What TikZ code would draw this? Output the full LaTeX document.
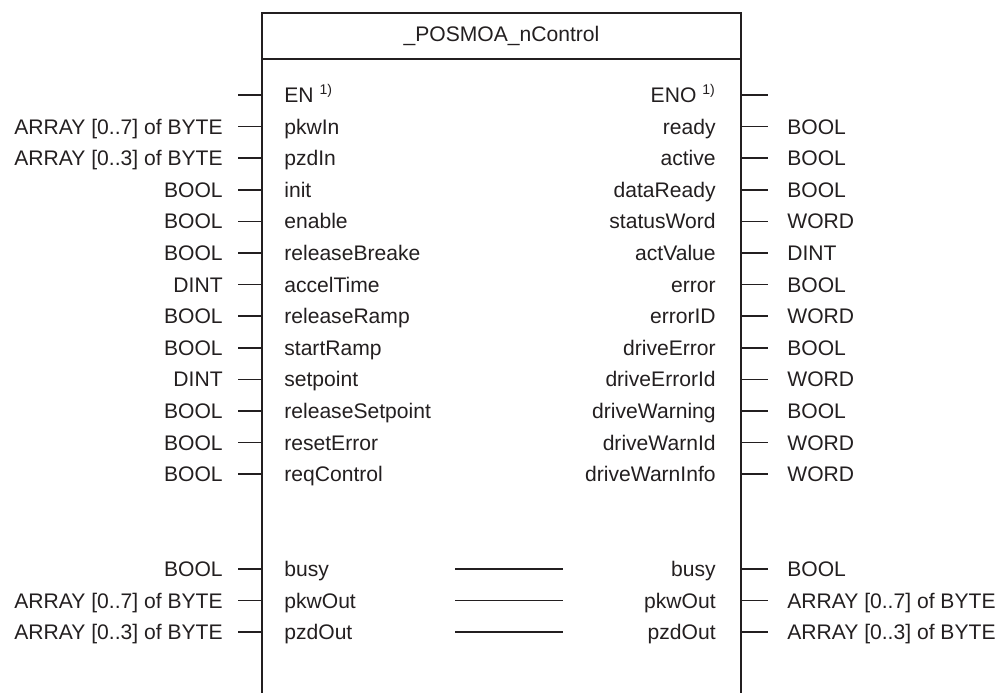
\documentclass[tikz,border=0pt]{standalone}
\usepackage{fontspec}
\setmainfont{Liberation Sans}
\usetikzlibrary{positioning,calc}

\begin{document}
\begin{tikzpicture}[
        font=\fontsize{12}{14}\selectfont,
        every node/.style={inner sep=0pt, text=fbtext},
        frame/.style={draw=fbline, line width=1.1pt},
        pin/.style={draw=fbline, line width=1pt}]
        \definecolor{fbline}{RGB}{35,31,32}
        \definecolor{fbtext}{RGB}{35,31,32}

        \useasboundingbox (0,0) rectangle (20.06,-13.86);

        % Block frame (open at the bottom)
        \coordinate (blkBL) at (5.24,-13.86);
        \coordinate (blkTL) at (5.24,-0.26);
        \coordinate (blkTR) at (14.82,-0.26);
        \coordinate (blkBR) at (14.82,-13.86);
        \coordinate (hdrL) at (5.24,-1.18);
        \coordinate (hdrR) at (14.82,-1.18);
        \draw[frame] (blkBL) -- (blkTL) -- (blkTR) -- (blkBR);
        \draw[frame] (hdrL) -- (hdrR);
        \node (title) at (10.03,-0.72) {\_POSMOA\_nControl};

        % Inputs and outputs
        \foreach \r/\tyI/\nmI/\nmO/\tyO in {
            0//EN \textsuperscript{1)}/ENO \textsuperscript{1)}/,
            1/ARRAY [0..7] of BYTE/pkwIn/ready/BOOL,
            2/ARRAY [0..3] of BYTE/pzdIn/active/BOOL,
            3/BOOL/init/dataReady/BOOL,
            4/BOOL/enable/statusWord/WORD,
            5/BOOL/releaseBreake/actValue/DINT,
            6/DINT/accelTime/error/BOOL,
            7/BOOL/releaseRamp/errorID/WORD,
            8/BOOL/startRamp/driveError/BOOL,
            9/DINT/setpoint/driveErrorId/WORD,
            10/BOOL/releaseSetpoint/driveWarning/BOOL,
            11/BOOL/resetError/driveWarnId/WORD,
            12/BOOL/reqControl/driveWarnInfo/WORD,
            15/BOOL/busy/busy/BOOL,
            16/ARRAY [0..7] of BYTE/pkwOut/pkwOut/ARRAY [0..7] of BYTE,
            17/ARRAY [0..3] of BYTE/pzdOut/pzdOut/ARRAY [0..3] of BYTE} {
            \pgfmathsetmacro{\yy}{-1.90-0.632*\r}
            \pgfmathsetmacro{\yb}{\yy-0.15}
            \coordinate (pinA\r) at (4.76,\yy);
            \coordinate (pinB\r) at (5.24,\yy);
            \coordinate (pinC\r) at (14.82,\yy);
            \coordinate (pinD\r) at (15.36,\yy);
            \draw[pin] (pinA\r) -- (pinB\r);
            \draw[pin] (pinC\r) -- (pinD\r);
            \node[anchor=base east] (tin\r) at (4.46,\yb) {\tyI};
            \node[anchor=base west] (in\r) at (5.68,\yb) {\nmI};
            \node[anchor=base east] (out\r) at (14.32,\yb) {\nmO};
            \node[anchor=base west] (tout\r) at (15.74,\yb) {\tyO};
        }

        % Pass-through lines
        \foreach \r in {15,16,17} {
            \pgfmathsetmacro{\yy}{-1.90-0.632*\r}
            \coordinate (midA\r) at (9.10,\yy);
            \coordinate (midB\r) at (11.26,\yy);
            \draw[pin] (midA\r) -- (midB\r);
        }
    \end{tikzpicture}
\end{document}
